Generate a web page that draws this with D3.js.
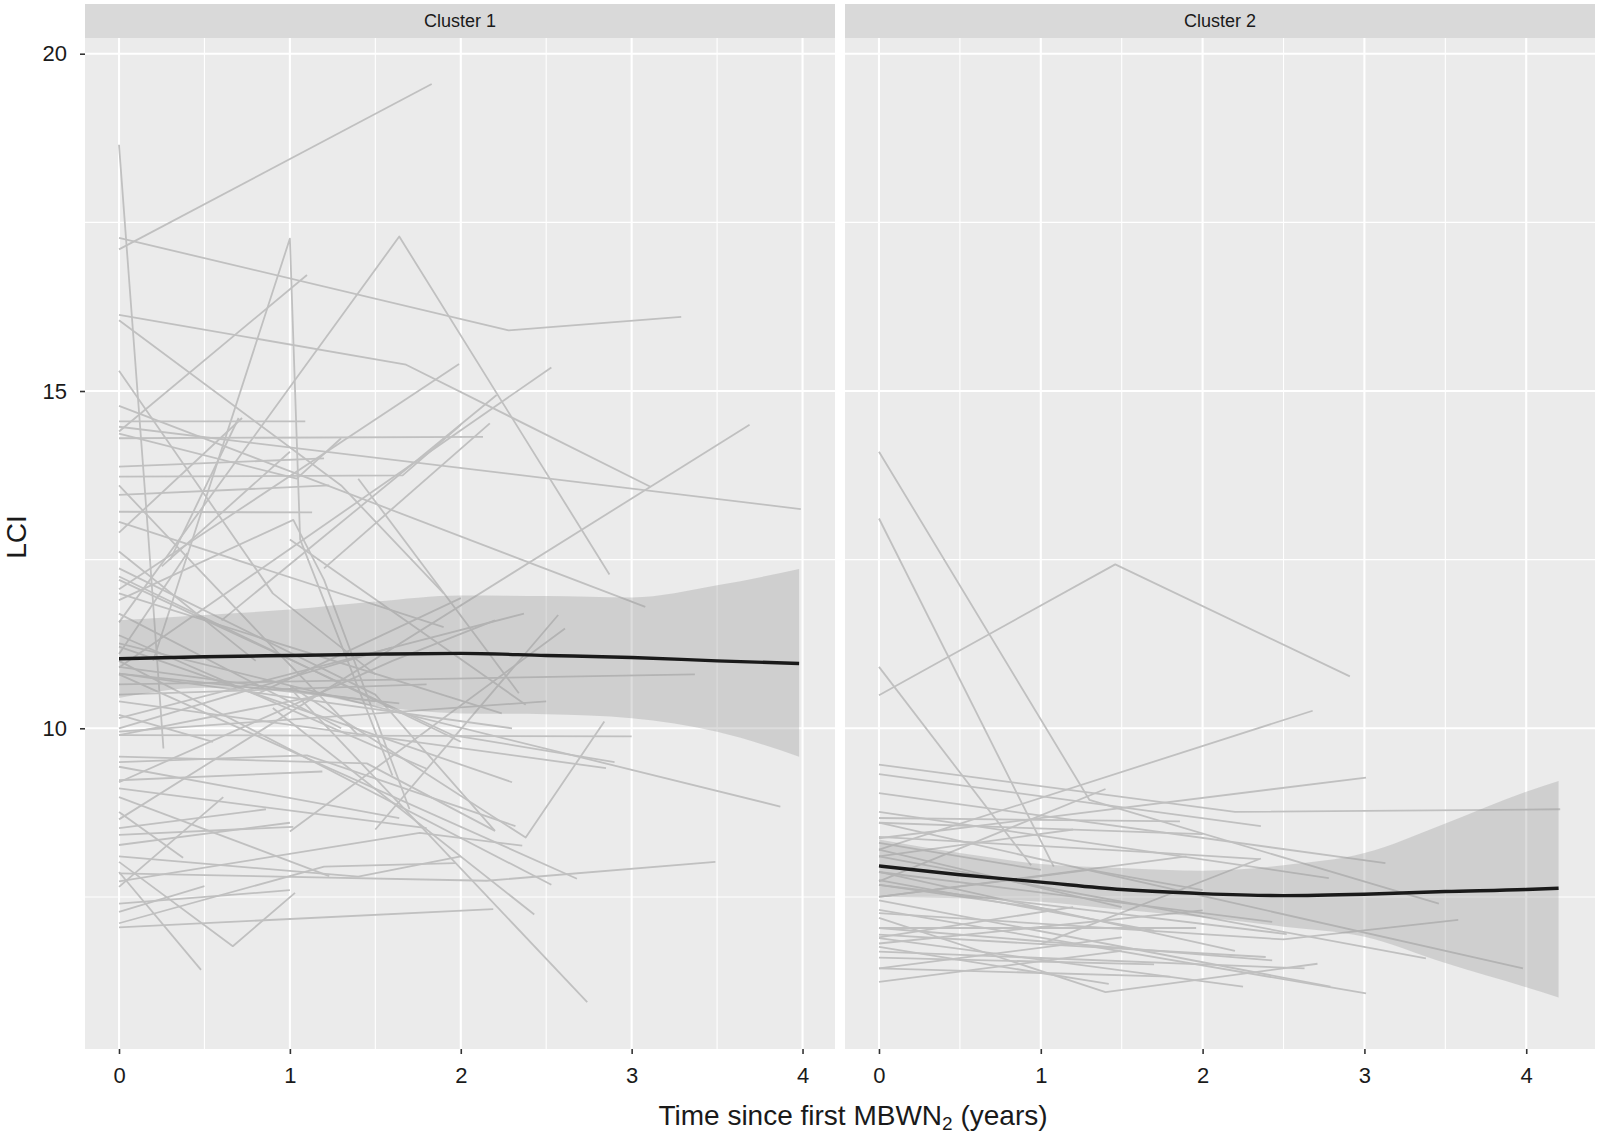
<!DOCTYPE html>
<html>
<head>
<meta charset="utf-8">
<script src="https://cdn.jsdelivr.net/npm/d3@7"></script>
<style>
  html, body { margin: 0; padding: 0; background: #ffffff; }
  svg { display: block; }
  text { font-family: "Liberation Sans", Arial, "DejaVu Sans", sans-serif; }
</style>
</head>
<body>
<script>
// ---------------- DATA ----------------
const panelNames = ["Cluster 1", "Cluster 2"];
const xTicks = [0, 1, 2, 3, 4];
const yTicks = [10, 15, 20];
const xTitle = "Time since first MBWN";
const xTitleSub = "2";
const xTitleEnd = " (years)";
const yTitle = "LCI";

// individual trajectories, cluster 1: [time, LCI]
const cluster1Lines = [
  [[0,17.1],[1.83,19.55]],
  [[0,18.65],[0.17,12.9],[0.26,9.7]],
  [[0,17.27],[2.28,15.9],[3.29,16.1]],
  [[0.2,11.0],[1.0,17.26],[1.06,12.8],[1.6,9.3]],
  [[0,11.57],[1.64,17.29],[2.87,12.28]],
  [[0,16.13],[1.68,15.39],[3.11,13.58]],
  [[0,14.47],[3.99,13.25]],
  [[0,14.78],[3.08,11.8]],
  [[0,8.65],[3.69,14.5]],
  [[0,10.9],[2.53,15.35]],
  [[0,14.4],[1.1,16.72]],
  [[0,12.06],[1.99,15.4]],
  [[0.6,11.6],[2.21,14.94]],
  [[0,14.55],[1.09,14.55]],
  [[0,14.3],[2.13,14.32]],
  [[0,14.37],[1.04,13.7],[1.3,14.3]],
  [[0,13.88],[1.2,14.0]],
  [[0,13.46],[1.23,13.6]],
  [[0,13.21],[1.13,13.2]],
  [[1.2,12.37],[2.17,14.52]],
  [[0,10.65],[3.37,10.8]],
  [[0,9.9],[3.0,9.88]],
  [[0,10.4],[2.85,9.41]],
  [[0,11.26],[3.87,8.84]],
  [[1.0,10.63],[2.38,8.38],[2.84,10.1]],
  [[1.5,8.5],[2.57,11.68]],
  [[1.0,8.47],[2.61,11.48]],
  [[0,10.15],[2.37,11.7]],
  [[0.8,10.5],[2.0,11.93]],
  [[1.4,13.7],[2.34,10.52]],
  [[1.0,12.8],[2.38,10.35]],
  [[0,12.0],[2.24,10.22]],
  [[0,7.05],[2.19,7.32]],
  [[0,7.11],[1.2,7.95],[1.97,8.0]],
  [[0,7.28],[0.5,7.66]],
  [[0,7.73],[1.76,8.45],[2.36,8.26]],
  [[0,7.85],[2.15,7.74],[3.49,8.02]],
  [[0,8.02],[0.666,6.77],[1.03,7.56]],
  [[0,7.87],[0.48,6.42]],
  [[0,7.65],[0.61,8.98]],
  [[0,8.76],[0.375,8.08]],
  [[0,8.42],[1.02,8.54]],
  [[0,8.27],[1.0,8.6]],
  [[0,8.52],[0.86,8.8]],
  [[0,8.98],[1.23,7.81]],
  [[0,9.23],[1.19,9.36]],
  [[0,9.11],[1.8,8.52]],
  [[0,9.43],[1.64,8.67]],
  [[0,9.58],[1.45,9.48],[2.2,8.48]],
  [[0,9.5],[1.1,9.6],[2.32,8.55]],
  [[0.9,10.3],[2.43,7.24]],
  [[0,10.8],[2.68,7.77]],
  [[0,11.0],[2.53,7.68]],
  [[1.0,10.6],[2.74,5.94]],
  [[0,12.37],[1.5,10.5],[2.2,8.48]],
  [[0,12.25],[2.0,9.8]],
  [[0,11.7],[1.3,10.0]],
  [[0,11.38],[1.8,9.4]],
  [[0,11.21],[2.3,9.2]],
  [[0,10.91],[1.5,10.4]],
  [[0,10.81],[2.3,10.0]],
  [[0,10.0],[1.6,11.2]],
  [[0,9.9],[1.2,10.5]],
  [[0,13.06],[1.9,11.5]],
  [[0,12.62],[0.8,11.0]],
  [[0,13.73],[1.66,13.75],[2.0,14.5]],
  [[0,11.9],[1.02,13.09],[1.2,12.2],[1.7,8.8]],
  [[0,12.9],[0.72,14.6]],
  [[0,10.2],[0.55,9.8]],
  [[0.3,12.5],[0.7,14.6]],
  [[0,10.81],[1.64,10.37]],
  [[0,10.5],[1.8,10.65]],
  [[0,9.95],[2.5,10.4]],
  [[0,16.05],[1.3,13.6],[1.9,12.0]],
  [[0,12.2],[1.95,9.9],[2.9,9.5]],
  [[0,9.2],[1.6,11.0],[2.2,11.6]],
  [[0.25,12.4],[1.0,14.1]],
  [[0,15.3],[0.9,12.0],[1.5,10.8]],
  [[0,13.6],[0.9,11.2],[1.4,9.9]],
  [[0,11.1],[0.4,12.6]],
  [[0,8.1],[1.4,7.8],[2.0,8.1]],
  [[0,7.4],[1.0,7.6]]
];

// individual trajectories, cluster 2
const cluster2Lines = [
  [[0,14.1],[1.3,8.94],[3.46,7.4]],
  [[0,13.11],[1.08,7.95]],
  [[0,10.91],[0.94,7.97]],
  [[0,10.49],[1.46,12.43],[2.91,10.77]],
  [[0,8.2],[2.68,10.26]],
  [[0,9.46],[2.2,8.76],[4.21,8.8]],
  [[0,8.37],[3.01,9.27]],
  [[0,7.73],[1.4,9.1]],
  [[0,9.32],[2.36,8.55]],
  [[0,9.04],[3.13,8.0]],
  [[0,8.76],[2.78,7.78]],
  [[0,8.6],[3.98,6.44]],
  [[0,8.1],[3.38,6.59]],
  [[0,7.26],[2.5,6.87],[3.58,7.16]],
  [[0,7.87],[2.43,7.13]],
  [[0,7.68],[2.52,6.95]],
  [[0,7.04],[2.43,6.56]],
  [[0,6.94],[2.39,6.61]],
  [[0,6.69],[2.63,6.44]],
  [[0,6.24],[1.5,6.7]],
  [[0,7.45],[2.79,6.17]],
  [[0,7.31],[3.01,6.07]],
  [[0,6.89],[2.25,6.17]],
  [[1.0,6.8],[2.36,8.07]],
  [[0,7.19],[1.4,6.09],[2.71,6.51]],
  [[0,6.44],[1.8,6.32]],
  [[0,6.76],[1.42,6.21]],
  [[0,8.39],[1.69,8.16],[2.35,8.06]],
  [[0,8.1],[1.2,8.5]],
  [[0,8.2],[1.5,7.35]],
  [[0,8.67],[1.86,8.62]],
  [[0,7.5],[1.9,8.1]],
  [[0,6.81],[2.0,7.3]],
  [[0,7.04],[1.96,7.04]],
  [[0,6.44],[1.5,6.9]],
  [[0,7.68],[1.1,7.3]],
  [[0,8.6],[2.0,8.43]],
  [[0,7.75],[1.7,7.0]],
  [[0,7.5],[1.3,7.9],[2.0,7.6]],
  [[0,6.9],[1.2,7.35]],
  [[0,8.3],[1.0,7.9]],
  [[0,7.87],[2.2,6.7]],
  [[0,6.6],[1.7,6.5]]
];

// smoothed mean with confidence band
const smooth1T  = [0, 0.5, 1.0, 1.5, 2.0, 2.5, 3.0, 3.5, 3.98];
const smooth1Fit = [11.03, 11.06, 11.08, 11.1, 11.11, 11.08, 11.05, 11.0, 10.96];
const smooth1Lo  = [10.45, 10.6, 10.55, 10.33, 10.22, 10.21, 10.15, 9.95, 9.58];
const smooth1Hi  = [11.6, 11.68, 11.76, 11.88, 11.97, 11.96, 11.94, 12.12, 12.36];

const smooth2T  = [0, 0.5, 1.0, 1.5, 2.0, 2.5, 3.0, 3.5, 4.0, 4.2];
const smooth2Fit = [7.96, 7.83, 7.72, 7.61, 7.55, 7.52, 7.54, 7.58, 7.61, 7.63];
const smooth2Lo  = [7.5, 7.48, 7.43, 7.31, 7.2, 7.06, 6.91, 6.52, 6.16, 6.01];
const smooth2Hi  = [8.35, 8.15, 7.99, 7.93, 7.89, 7.97, 8.15, 8.59, 9.06, 9.22];

// ---------------- LAYOUT ----------------
const W = 1600, H = 1136;
const plotTop = 38, plotBottom = 1049;
const stripTop = 4;
const panels = [
  { name: panelNames[0], left: 85,  right: 835,  domain: [-0.199, 4.19],  lines: cluster1Lines,
    sT: smooth1T, sFit: smooth1Fit, sLo: smooth1Lo, sHi: smooth1Hi },
  { name: panelNames[1], left: 845, right: 1595, domain: [-0.21, 4.425], lines: cluster2Lines,
    sT: smooth2T, sFit: smooth2Fit, sLo: smooth2Lo, sHi: smooth2Hi }
];

const y = d3.scaleLinear().domain([5.246, 20.233]).range([plotBottom, plotTop]);
const yMinor = [7.5, 12.5, 17.5];
const xMinor = [0.5, 1.5, 2.5, 3.5];

const svg = d3.select("body").append("svg")
  .attr("width", W).attr("height", H)
  .attr("viewBox", `0 0 ${W} ${H}`);

svg.append("rect").attr("width", W).attr("height", H).attr("fill", "#ffffff");

const defs = svg.append("defs");

panels.forEach((p, i) => {
  const x = d3.scaleLinear().domain(p.domain).range([p.left, p.right]);
  const g = svg.append("g").attr("class", "panel");

  defs.append("clipPath").attr("id", "clip" + i)
    .append("rect").attr("x", p.left).attr("y", plotTop)
    .attr("width", p.right - p.left).attr("height", plotBottom - plotTop);

  // background
  g.append("rect").attr("x", p.left).attr("y", plotTop)
    .attr("width", p.right - p.left).attr("height", plotBottom - plotTop)
    .attr("fill", "#EBEBEB");

  // minor grid
  g.selectAll(".vminor").data(xMinor).join("line")
    .attr("x1", d => x(d)).attr("x2", d => x(d))
    .attr("y1", plotTop).attr("y2", plotBottom)
    .attr("stroke", "#ffffff").attr("stroke-width", 1.1);
  g.selectAll(".hminor").data(yMinor).join("line")
    .attr("x1", p.left).attr("x2", p.right)
    .attr("y1", d => y(d)).attr("y2", d => y(d))
    .attr("stroke", "#ffffff").attr("stroke-width", 1.1);
  // major grid
  g.selectAll(".vmajor").data(xTicks).join("line")
    .attr("x1", d => x(d)).attr("x2", d => x(d))
    .attr("y1", plotTop).attr("y2", plotBottom)
    .attr("stroke", "#ffffff").attr("stroke-width", 2.1);
  g.selectAll(".hmajor").data(yTicks).join("line")
    .attr("x1", p.left).attr("x2", p.right)
    .attr("y1", d => y(d)).attr("y2", d => y(d))
    .attr("stroke", "#ffffff").attr("stroke-width", 2.1);

  const inner = g.append("g").attr("clip-path", `url(#clip${i})`);

  // trajectories
  const line = d3.line().x(d => x(d[0])).y(d => y(d[1]));
  inner.selectAll(".traj").data(p.lines).join("path")
    .attr("d", line)
    .attr("fill", "none")
    .attr("stroke", "#C0C0C0")
    .attr("stroke-width", 1.8)
    .attr("stroke-linejoin", "round");

  // smooth band
  const sData = p.sT.map((t, k) => ({ t, fit: p.sFit[k], lo: p.sLo[k], hi: p.sHi[k] }));
  const area = d3.area().x(d => x(d.t)).y0(d => y(d.lo)).y1(d => y(d.hi))
    .curve(d3.curveMonotoneX);
  inner.append("path").datum(sData).attr("d", area)
    .attr("fill", "#999999").attr("fill-opacity", 0.33);
  const fitLine = d3.line().x(d => x(d.t)).y(d => y(d.fit)).curve(d3.curveMonotoneX);
  inner.append("path").datum(sData).attr("d", fitLine)
    .attr("fill", "none").attr("stroke", "#1A1A1A").attr("stroke-width", 3.4);

  // strip
  g.append("rect").attr("x", p.left).attr("y", stripTop)
    .attr("width", p.right - p.left).attr("height", plotTop - stripTop)
    .attr("fill", "#D9D9D9");
  g.append("text").attr("x", (p.left + p.right) / 2).attr("y", (stripTop + plotTop) / 2)
    .attr("dy", "0.35em").attr("text-anchor", "middle")
    .attr("font-size", 18).attr("fill", "#1A1A1A").text(p.name);

  // x axis
  const xAxis = d3.axisBottom(x).tickValues(xTicks).tickFormat(d3.format("d"))
    .tickSize(5).tickPadding(13);
  const ax = svg.append("g").attr("transform", `translate(0,${plotBottom})`).call(xAxis);
  ax.select(".domain").remove();
  ax.selectAll(".tick line").attr("stroke", "#333333").attr("stroke-width", 1.6);
  ax.selectAll(".tick text").attr("font-size", 22).attr("fill", "#1A1A1A")
    .attr("font-family", '"Liberation Sans", Arial, sans-serif');

  if (i === 0) {
    const yAxis = d3.axisLeft(y).tickValues(yTicks).tickSize(5).tickPadding(13);
    const ay = svg.append("g").attr("transform", `translate(${p.left},0)`).call(yAxis);
    ay.select(".domain").remove();
    ay.selectAll(".tick line").attr("stroke", "#333333").attr("stroke-width", 1.6);
    ay.selectAll(".tick text").attr("font-size", 22).attr("fill", "#1A1A1A")
      .attr("font-family", '"Liberation Sans", Arial, sans-serif');
  }
});

// axis titles
const xt = svg.append("text").attr("x", 853).attr("y", 1125)
  .attr("text-anchor", "middle").attr("font-size", 28).attr("fill", "#1A1A1A");
xt.append("tspan").text(xTitle);
xt.append("tspan").attr("font-size", 19).attr("dy", 5).text(xTitleSub);
xt.append("tspan").attr("dy", -5).text(xTitleEnd);

svg.append("text")
  .attr("transform", "translate(25.5,537) rotate(-90)")
  .attr("text-anchor", "middle").attr("font-size", 28).attr("fill", "#1A1A1A")
  .text(yTitle);
</script>
</body>
</html>
